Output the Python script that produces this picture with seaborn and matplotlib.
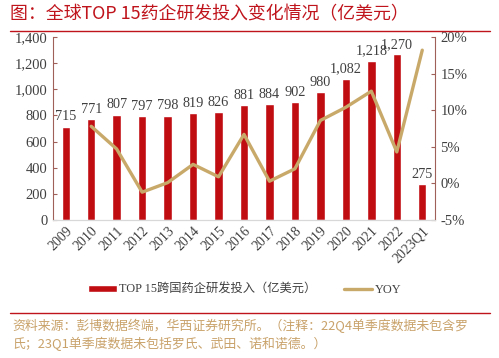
import numpy as np
import pandas as pd
import matplotlib.pyplot as plt
import seaborn as sns
from matplotlib.font_manager import FontProperties

# Données
annees = ["2009", "2010", "2011", "2012", "2013", "2014", "2015", "2016",
          "2017", "2018", "2019", "2020", "2021", "2022", "2023Q1"]
depenses = [715, 771, 807, 797, 798, 819, 826, 881, 884, 902, 980, 1082, 1218, 1270, 275]
yoy = [np.nan, 7.8, 4.7, -1.2, 0.1, 2.6, 0.9, 6.7, 0.3, 2.0, 8.6, 10.4, 12.6, 4.3, 18.2]

rouge = "#c00d12"
beige = "#c9a96a"
brun = "#a0605a"
gris = "#404040"
serif = ["Liberation Serif", "Noto Sans CJK SC"]

sns.set_style("white")
plt.rcParams['font.family'] = ["Noto Sans CJK SC", "DejaVu Sans"]

df = pd.DataFrame({"annee": annees, "depenses": depenses, "yoy": yoy})

fig = plt.figure(figsize=(4.99, 3.58), dpi=100)
ax = fig.add_axes([53 / 499, 1 - 220 / 358, 382 / 499, 183 / 358])

sns.barplot(data=df, x="annee", y="depenses", color=rouge, saturation=1,
            width=0.33, ax=ax, label="TOP 15跨国药企研发投入（亿美元）")
ax.set_ylim(0, 1400)
ax.set_xlim(-0.5, len(annees) - 0.5)
ax.set_yticks(range(0, 1401, 200))
ax.set_yticklabels([f"{v:,}" for v in range(0, 1401, 200)], family=serif, fontsize=10.5, color=gris)
ax.set_xticks(range(len(annees)))
ax.set_xticklabels(annees, rotation=45, ha="right", rotation_mode="anchor",
                   family=serif, fontsize=10, color=gris)
ax.set_xlabel("")
ax.set_ylabel("")
for i, v in enumerate(depenses):
    ax.text(i, v + 25, f"{v:,}", ha="center", va="bottom", family=serif,
            fontsize=10.3, color=gris)

ax2 = ax.twinx()
sns.lineplot(x=np.arange(len(annees)), y=yoy, color=beige, linewidth=2.4,
             ax=ax2, label="YOY")
ax2.set_ylim(-5, 20)
ax2.set_yticks(range(-5, 21, 5))
ax2.set_yticklabels([f"{v}%" for v in range(-5, 21, 5)], family=serif, fontsize=10.5, color=gris)
ax2.set_xlim(-0.5, len(annees) - 0.5)

for a in (ax, ax2):
    a.spines["top"].set_visible(False)
    a.spines["left"].set_color(brun)
    a.spines["right"].set_color(brun)
    a.spines["bottom"].set_color("#d8d8d8")
    a.tick_params(axis="y", direction="in", length=3, color=brun, pad=4)
    a.tick_params(axis="x", length=0, pad=3)
ax2.spines["left"].set_visible(False)
ax.spines["right"].set_visible(False)

# Légende commune en bas
h1, l1 = ax.get_legend_handles_labels()
h2, l2 = ax2.get_legend_handles_labels()
if ax.get_legend():
    ax.get_legend().remove()
if ax2.get_legend():
    ax2.get_legend().remove()
fig.legend(h1 + h2, l1 + l2, loc="center", bbox_to_anchor=(245 / 499, 1 - 290 / 358),
           ncol=2, frameon=False, prop=FontProperties(family=serif, size=8.8),
           handlelength=2.3, handleheight=0.5, handletextpad=0.2,
           columnspacing=2.3, labelcolor=gris)

# Titre et notes
fig.text(10 / 499, 1 - 14 / 358, "图：全球TOP 15药企研发投入变化情况（亿美元）",
         fontsize=12.9, color="#c0141c", va="center", ha="left")
fig.add_artist(plt.Line2D([10 / 499, 490 / 499], [1 - 31 / 358] * 2, color="#c0141c", lw=1))
fig.add_artist(plt.Line2D([10 / 499, 490 / 499], [1 - 313 / 358] * 2, color="#c0141c", lw=1))
fig.text(12 / 499, 1 - 326 / 358,
         "资料来源：彭博数据终端，华西证券研究所。（注释：22Q4单季度数据未包含罗",
         fontsize=9.3, color="#c9a26a", va="center", ha="left")
fig.text(12 / 499, 1 - 344 / 358,
         "氏；23Q1单季度数据未包括罗氏、武田、诺和诺德。）",
         fontsize=9.3, color="#c9a26a", va="center", ha="left")

fig.savefig("out.png", dpi=100)
